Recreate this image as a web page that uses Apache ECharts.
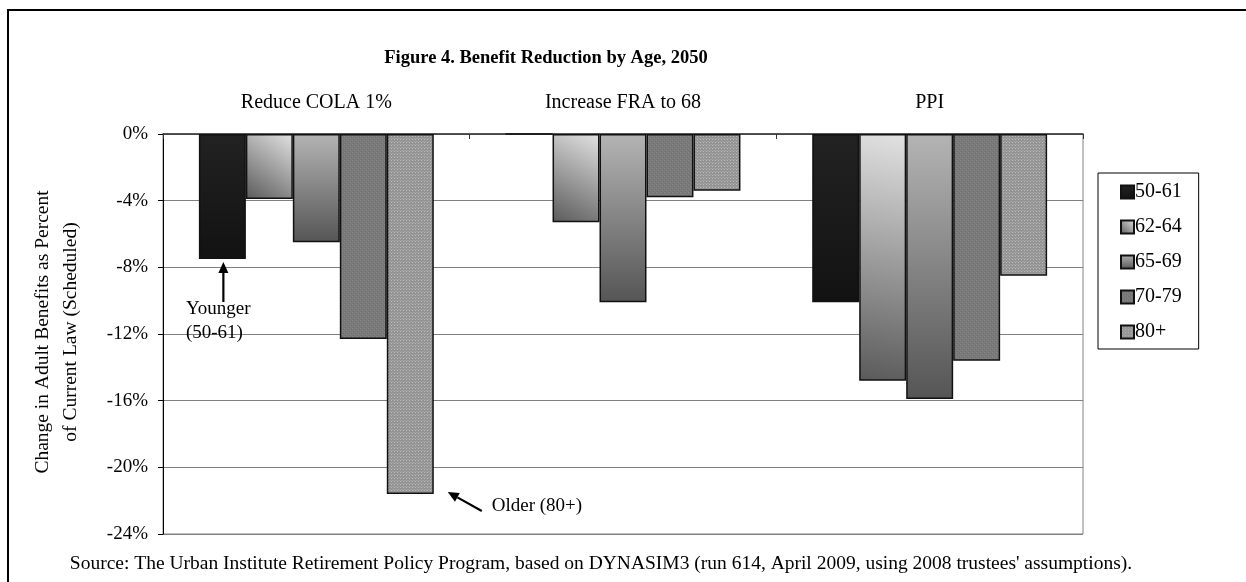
<!DOCTYPE html>
<html>
<head>
<meta charset="utf-8">
<script src="https://cdn.jsdelivr.net/npm/echarts@6/dist/echarts.min.js"></script>
<style>
  html, body { margin: 0; padding: 0; background: #fff; }
  #chart { width: 1246px; height: 582px; }
</style>
</head>
<body>
<div id="chart"></div>
<script>
// ---- Data -------------------------------------------------------------
const titleText = 'Figure 4. Benefit Reduction by Age, 2050';
const sourceText = "Source: The Urban Institute Retirement Policy Program, based on DYNASIM3 (run 614, April 2009, using 2008 trustees' assumptions).";
const yAxisTitle = ['Change in Adult Benefits as Percent', 'of Current Law (Scheduled)'];

const policies = ['Reduce COLA 1%', 'Increase FRA to 68', 'PPI'];
const ageGroups = ['50-61', '62-64', '65-69', '70-79', '80+'];

// Percent change in benefits, one array per age group (order follows policies)
const age50to61 = [-7.5, 0, -10.1];
const age62to64 = [-3.9, -5.3, -14.8];
const age65to69 = [-6.5, -10.1, -15.9];
const age70to79 = [-12.3, -3.8, -13.6];
const age80plus = [-21.6, -3.4, -8.5];

const yMin = -24;
const yMax = 0;
const yStep = 4;

const youngerNote = ['Younger', '(50-61)'];
const olderNote = 'Older (80+)';

// ---- Fills ------------------------------------------------------------
const FONT = '"Liberation Serif", "Times New Roman", serif';

function makePattern(size, base, dots) {
  const c = document.createElement('canvas');
  c.width = size; c.height = size;
  const g = c.getContext('2d');
  g.fillStyle = base;
  g.fillRect(0, 0, size, size);
  dots.forEach(d => { g.fillStyle = d[2]; g.fillRect(d[0], d[1], 1, 1); });
  return { image: c, repeat: 'repeat' };
}

const fills = [
  new echarts.graphic.LinearGradient(0, 0, 0, 1, [
    { offset: 0, color: '#222222' }, { offset: 1, color: '#121212' }
  ]),
  new echarts.graphic.LinearGradient(0, 1, 1, 0, [
    { offset: 0, color: '#5a5a5a' }, { offset: 1, color: '#e2e2e2' }
  ]),
  new echarts.graphic.LinearGradient(0, 0, 0, 1, [
    { offset: 0, color: '#b4b4b4' }, { offset: 1, color: '#555555' }
  ]),
  makePattern(4, '#7a7a7a', [[0, 0, '#868686'], [2, 2, '#868686'], [1, 3, '#6e6e6e'], [3, 1, '#6e6e6e']]),
  makePattern(3, '#939393', [[1, 1, '#bcbcbc'], [0, 0, '#a2a2a2'], [2, 0, '#a2a2a2']])
];

const seriesValues = [age50to61, age62to64, age65to69, age70to79, age80plus];

const series = ageGroups.map((name, i) => ({
  name: name,
  type: 'bar',
  data: seriesValues[i],
  barGap: '0%',
  barCategoryGap: '23.4%',
  itemStyle: {
    color: fills[i],
    borderColor: '#111111',
    borderWidth: 1.5
  },
  emphasis: { disabled: true },
  animation: false
}));

// ---- Chart ------------------------------------------------------------
const chart = echarts.init(document.getElementById('chart'), null, { renderer: 'canvas' });

const option = {
  backgroundColor: '#ffffff',
  animation: false,
  textStyle: { fontFamily: FONT, color: '#000' },
  grid: {
    left: 163, top: 134, right: 163, bottom: 48,
    show: true, borderColor: '#808080', borderWidth: 1,
    backgroundColor: 'transparent',
    outerBoundsMode: 'none'
  },
  legend: {
    orient: 'vertical',
    left: 1098, top: 173,
    padding: [9, 17, 7, 22],
    itemWidth: 13, itemHeight: 13,
    itemGap: 15,
    icon: 'rect',
    borderColor: '#000',
    borderWidth: 1,
    backgroundColor: '#fff',
    selectedMode: false,
    data: ageGroups,
    textStyle: { fontFamily: FONT, fontSize: 20, color: '#000', lineHeight: 20, padding: [0, 0, 0, -4] }
  },
  xAxis: {
    type: 'category',
    position: 'top',
    data: policies,
    axisLine: { show: true, onZero: false, lineStyle: { color: '#333', width: 1.5 } },
    axisTick: { show: true, inside: true, length: 5, lineStyle: { color: '#333', width: 1 } },
    axisLabel: { fontFamily: FONT, fontSize: 20, color: '#000', margin: 21, lineHeight: 20 },
    splitLine: { show: false }
  },
  yAxis: {
    type: 'value',
    min: yMin, max: yMax, interval: yStep,
    axisLine: { show: true, lineStyle: { color: '#000', width: 1 } },
    axisTick: { show: true, inside: false, length: 5, lineStyle: { color: '#000' } },
    axisLabel: {
      fontFamily: FONT, fontSize: 19, color: '#000', margin: 15,
      formatter: v => v + '%'
    },
    splitLine: { show: true, lineStyle: { color: '#808080', width: 1 } }
  },
  series: series,
  graphic: [
    {
      type: 'rect', silent: true, z: 100,
      shape: { x: 8, y: 10, width: 1260, height: 620 },
      style: { fill: 'none', stroke: '#000', lineWidth: 2 }
    },
    {
      type: 'text', silent: true,
      x: 546, y: 58,
      style: {
        text: titleText, fill: '#000',
        font: 'bold 18.5px ' + FONT,
        textAlign: 'center', textVerticalAlign: 'middle'
      }
    },
    {
      type: 'text', silent: true,
      x: 601, y: 564,
      style: {
        text: sourceText, fill: '#000',
        font: '19.5px ' + FONT,
        textAlign: 'center', textVerticalAlign: 'middle'
      }
    },
    {
      type: 'text', silent: true,
      x: 57, y: 332, rotation: Math.PI / 2,
      style: {
        text: yAxisTitle.join('\n'), fill: '#000',
        font: '19.5px ' + FONT, lineHeight: 28,
        textAlign: 'center', textVerticalAlign: 'middle'
      }
    }
  ]
};

chart.setOption(option);

// ---- Annotations anchored to the bars they point at ----------------------
function barBox(seriesIndex, dataIndex) {
  const data = chart.getModel().getSeriesByIndex(seriesIndex).getData();
  const l = data.getItemLayout(dataIndex);
  return {
    left: Math.min(l.x, l.x + l.width),
    right: Math.max(l.x, l.x + l.width),
    bottom: Math.max(l.y, l.y + l.height)
  };
}

function arrow(x1, y1, x2, y2) {
  // shaft from (x1,y1) toward tip (x2,y2) with a filled head at the tip
  const ang = Math.atan2(y2 - y1, x2 - x1);
  const headLen = 11, headHalf = 5;
  const bx = x2 - headLen * Math.cos(ang), by = y2 - headLen * Math.sin(ang);
  const px = -Math.sin(ang) * headHalf, py = Math.cos(ang) * headHalf;
  return [
    { type: 'line', silent: true, z: 50,
      shape: { x1: x1, y1: y1, x2: bx, y2: by },
      style: { stroke: '#000', lineWidth: 2.2 } },
    { type: 'polygon', silent: true, z: 50,
      shape: { points: [[x2, y2], [bx + px, by + py], [bx - px, by - py]] },
      style: { fill: '#000' } }
  ];
}

const young = barBox(0, 0);
const youngCx = (young.left + young.right) / 2 + 1;
const old = barBox(4, 0);

const notes = []
  .concat(arrow(youngCx, young.bottom + 43, youngCx, young.bottom + 3))
  .concat([{
    type: 'text', silent: true, z: 50,
    x: young.left - 13, y: young.bottom + 38,
    style: {
      text: youngerNote.join('\n'), fill: '#000',
      font: '19px ' + FONT, lineHeight: 24,
      textAlign: 'left', textVerticalAlign: 'top'
    }
  }])
  .concat(arrow(old.right + 48, old.bottom + 17, old.right + 14, old.bottom - 2))
  .concat([{
    type: 'text', silent: true, z: 50,
    x: old.right + 58, y: old.bottom + 12,
    style: {
      text: olderNote, fill: '#000',
      font: '19px ' + FONT,
      textAlign: 'left', textVerticalAlign: 'middle'
    }
  }]);

chart.setOption({ graphic: option.graphic.concat(notes) }, { replaceMerge: ['graphic'] });
</script>
</body>
</html>
